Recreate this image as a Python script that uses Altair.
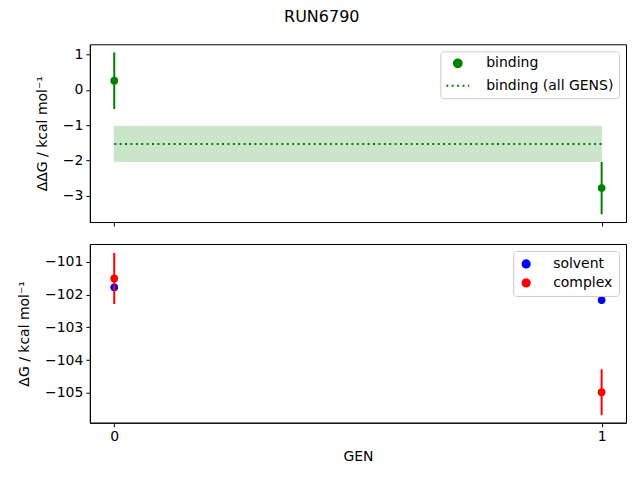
import altair as alt
import pandas as pd

# ---- data ----
gens = [0, 1]
binding = [0.26, -2.78]
binding_err = [0.80, 0.74]
binding_all = -1.53
binding_all_err = 0.50
solvent = [-101.78, -102.17]
solvent_err = [0.05, 0.12]
complex_vals = [-101.51, -104.98]
complex_err = [0.78, 0.70]

top_series = ["binding", "binding (all GENS)"]
bot_series = ["solvent", "complex"]
top_ticks = [-3, -2, -1, 0, 1]
bot_ticks = [-105, -104, -103, -102, -101]

FONT = "DejaVu Sans"

xscale = alt.Scale(domain=[-0.05, 1.05], nice=False, zero=False)

# ---- top panel ----
bind_df = pd.DataFrame({
    "GEN": gens,
    "value": binding,
    "lo": [v - e for v, e in zip(binding, binding_err)],
    "hi": [v + e for v, e in zip(binding, binding_err)],
    "series": ["binding"] * len(gens),
})
all_df = pd.DataFrame({
    "GEN": [gens[0]], "x1": [gens[-1]],
    "value": [binding_all],
    "lo": [binding_all - binding_all_err],
    "hi": [binding_all + binding_all_err],
    "series": ["binding (all GENS)"],
})

ytop = alt.Scale(domain=[-3.74, 1.29], nice=False, zero=False)
xtop = alt.X("GEN:Q", scale=xscale,
             axis=alt.Axis(values=gens, labels=False, title=None, ticks=True))
ytop_axis = alt.Axis(values=top_ticks, title="ΔΔG / kcal mol⁻¹", titlePadding=13)

leg = dict(title=None, orient="top-right", offset=7)
color_top = alt.Color("series:N",
                      scale=alt.Scale(domain=top_series, range=["green", "green"]),
                      legend=alt.Legend(symbolStrokeColor="green", symbolStrokeWidth=2,
                                        padding=5, rowPadding=2, labelOffset=16, **leg))
shape_top = alt.Shape("series:N", scale=alt.Scale(domain=top_series, range=["circle", "stroke"]),
                      legend=alt.Legend(**leg))
dash_top = alt.StrokeDash("series:N", scale=alt.Scale(domain=top_series, range=[[1, 0], [2, 3.4]]),
                          legend=alt.Legend(**leg))
size_top = alt.Size("series:N", scale=alt.Scale(domain=top_series, range=[60, 529]),
                    legend=alt.Legend(**leg))

band = alt.Chart(all_df).mark_rect(color="green", opacity=0.2, stroke="green", strokeWidth=1).encode(
    x=xtop, x2="x1:Q",
    y=alt.Y("lo:Q", scale=ytop, axis=ytop_axis), y2="hi:Q",
)
all_line = alt.Chart(all_df).mark_rule(strokeWidth=2).encode(
    x=xtop, x2="x1:Q",
    y=alt.Y("value:Q", scale=ytop, axis=ytop_axis), color=color_top, strokeDash=dash_top,
)
bind_err = alt.Chart(bind_df).mark_rule(color="green", strokeWidth=2).encode(
    x=xtop, y=alt.Y("lo:Q", scale=ytop, axis=ytop_axis), y2="hi:Q",
)
bind_pts = alt.Chart(bind_df).mark_point(filled=True, opacity=1).encode(
    x=xtop,
    y=alt.Y("value:Q", scale=ytop, axis=ytop_axis),
    color=color_top, shape=shape_top, strokeDash=dash_top, size=size_top,
)
top = alt.layer(band, all_line, bind_err, bind_pts).properties(width=537, height=178)

# ---- bottom panel ----
rows = []
for s, vals, errs in [("solvent", solvent, solvent_err), ("complex", complex_vals, complex_err)]:
    for g, v, e in zip(gens, vals, errs):
        rows.append({"GEN": g, "value": v, "lo": v - e, "hi": v + e, "series": s})
bot_df = pd.DataFrame(rows)

ybot = alt.Scale(domain=[-105.91, -100.46], nice=False, zero=False)
xbot = alt.X("GEN:Q", scale=xscale,
             axis=alt.Axis(values=gens, format="d", title="GEN", titlePadding=6))
ybot_axis = alt.Axis(values=bot_ticks, title="ΔG / kcal mol⁻¹", titlePadding=13)
color_bot = alt.Color("series:N", scale=alt.Scale(domain=bot_series, range=["blue", "red"]),
                      legend=alt.Legend(symbolSize=60, padding=6, rowPadding=5,
                                        labelOffset=20, **leg))

bot_layers = []
for s in bot_series:
    d = bot_df[bot_df["series"] == s]
    bot_layers.append(alt.Chart(d).mark_rule(strokeWidth=2).encode(
        x=xbot, y=alt.Y("lo:Q", scale=ybot, axis=ybot_axis), y2="hi:Q", color=color_bot))
    bot_layers.append(alt.Chart(d).mark_point(filled=True, opacity=1, size=60).encode(
        x=xbot, y=alt.Y("value:Q", scale=ybot, axis=ybot_axis), color=color_bot))
bottom = alt.layer(*bot_layers).properties(width=537, height=179)

chart = alt.vconcat(top, bottom, spacing=16).resolve_scale(
    color="independent", shape="independent", strokeDash="independent", size="independent"
).resolve_legend(
    color="independent", shape="independent", strokeDash="independent", size="independent"
).properties(
    title=alt.Title("RUN6790", fontSize=16, font=FONT, fontWeight="normal", anchor="middle", offset=19),
    padding={"left": 9, "top": 0, "right": 5, "bottom": 5},
).configure(font=FONT).configure_view(
    stroke="black", strokeWidth=1
).configure_axis(
    grid=False, labelFontSize=14, titleFontSize=14, titleFontWeight="normal",
    labelColor="black", titleColor="black", tickColor="black", domainColor="black",
    tickSize=4, labelPadding=3, labelFont=FONT, titleFont=FONT,
).configure_legend(
    labelFontSize=14, labelFont=FONT, labelColor="black",
    fillColor="rgba(255,255,255,0.8)", strokeColor="#cccccc", cornerRadius=3,
)

chart.save("out.html", embed_options={"renderer": "svg", "actions": False})
